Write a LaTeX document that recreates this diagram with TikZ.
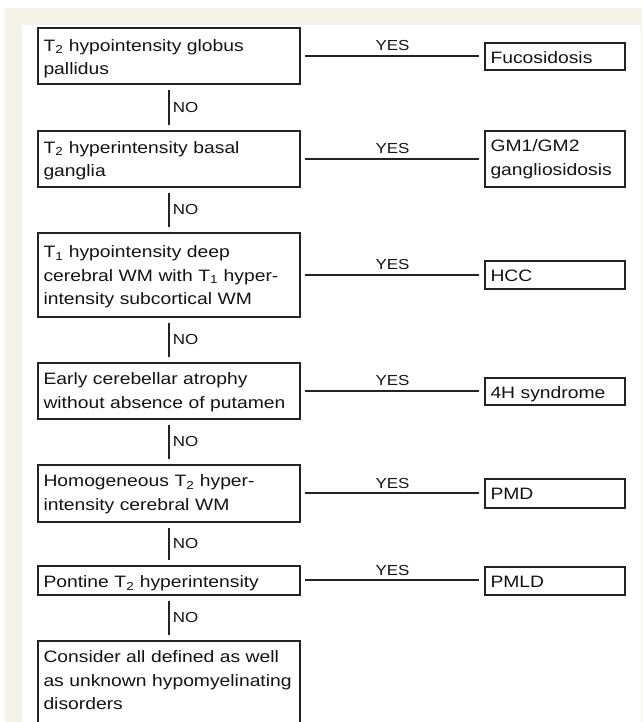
\documentclass[tikz,border=0pt]{standalone}
\usepackage{fontspec}
\setmainfont{Liberation Sans}[FakeStretch=1.17]
\definecolor{beige}{RGB}{245,242,231}
\definecolor{linec}{RGB}{35,35,35}
\definecolor{textc}{RGB}{20,20,20}
\newcommand\boxfont{\fontsize{16.5}{23.5}\selectfont}
\newcommand\labfont{\fontsize{14.5}{16}\selectfont}
\begin{document}
\begin{tikzpicture}[x=1pt,y=-1pt,
  qbox/.style={draw=linec, line width=1.6pt, rectangle, text width=251pt,
    inner xsep=5.5pt, inner ysep=0pt, align=left, font=\boxfont, text=textc},
  abox/.style={draw=linec, line width=1.6pt, rectangle, text width=129pt,
    inner xsep=5.5pt, inner ysep=0pt, align=left, font=\boxfont, text=textc,
    text height=20.8pt},
  noline/.style={draw=linec, line width=1.8pt, shorten <=5pt, shorten >=5pt},
  yesline/.style={draw=linec, line width=1.8pt, shorten <=4pt, shorten >=5pt},
  lab/.style={font=\labfont, text=textc, inner sep=0pt}
]
\path[use as bounding box, clip] (0,0) rectangle (642,722);
\fill[beige] (5,8) rectangle (642,722);
\fill[white] (22,25) rectangle (640.5,722);

\node[qbox, text height=23.5pt, text depth=32.5pt, anchor=north] (q1) at (169,27) {T\textsubscript{2} hypointensity globus\\pallidus};
\node[qbox, text height=22.5pt, text depth=33.5pt, anchor=north] (q2) at (169,130) {T\textsubscript{2} hyperintensity basal\\ganglia};
\node[qbox, text height=25pt, text depth=59pt, anchor=north] (q3) at (169,232) {T\textsubscript{1} hypointensity deep\\cerebral WM with T\textsubscript{1} hyper-\\intensity subcortical WM};
\node[qbox, text height=22pt, text depth=34pt, anchor=north] (q4) at (169,362) {Early cerebellar atrophy\\without absence of putamen};
\node[qbox, text height=22pt, text depth=35pt, anchor=north] (q5) at (169,464) {Homogeneous T\textsubscript{2} hyper-\\intensity cerebral WM};
\node[qbox, text height=22pt, text depth=7pt, anchor=north] (q6) at (169,565) {Pontine T\textsubscript{2} hyperintensity};
\node[qbox, text height=22pt, text depth=78pt, anchor=north] (q7) at (169,640) {Consider all defined as well\\as unknown hypomyelinating\\disorders};

\node[abox, text depth=6.2pt, anchor=north] (a1) at (555,42) {Fucosidosis};
\node[abox, text depth=35.2pt, anchor=north] (a2) at (555,130) {GM1/GM2\\gangliosidosis};
\node[abox, text depth=7.2pt, anchor=north] (a3) at (555,260) {HCC};
\node[abox, text depth=6.2pt, anchor=north] (a4) at (555,377) {4H syndrome};
\node[abox, text depth=8.2pt, anchor=north] (a5) at (555,478) {PMD};
\node[abox, text depth=7.2pt, anchor=north] (a6) at (555,566) {PMLD};

\foreach \u/\v in {q1/q2,q2/q3,q3/q4,q4/q5,q5/q6,q6/q7}{
  \draw[noline] (\u.south) -- node[lab, right=3pt] {NO} (\v.north);
}
\foreach \u/\v in {q1/a1,q2/a2,q3/a3,q4/a4,q5/a5,q6/a6}{
  \draw[yesline] (\u.east) -- node[lab, above=4pt] {YES} (\u.east -| \v.west);
}
\end{tikzpicture}
\end{document}
